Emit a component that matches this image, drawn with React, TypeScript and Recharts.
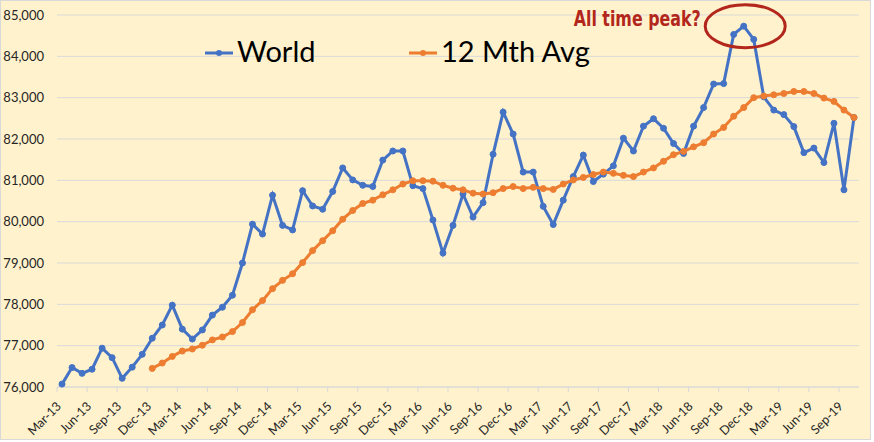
import { LineChart, Line, XAxis, YAxis, CartesianGrid, Legend, ReferenceDot } from 'recharts';

// month categories, Mar-13 .. Oct-19
const MONTHS: string[] = [
  'Mar-13', 'Apr-13', 'May-13', 'Jun-13', 'Jul-13', 'Aug-13', 'Sep-13', 'Oct-13', 'Nov-13', 'Dec-13',
  'Jan-14', 'Feb-14', 'Mar-14', 'Apr-14', 'May-14', 'Jun-14', 'Jul-14', 'Aug-14', 'Sep-14', 'Oct-14', 'Nov-14', 'Dec-14',
  'Jan-15', 'Feb-15', 'Mar-15', 'Apr-15', 'May-15', 'Jun-15', 'Jul-15', 'Aug-15', 'Sep-15', 'Oct-15', 'Nov-15', 'Dec-15',
  'Jan-16', 'Feb-16', 'Mar-16', 'Apr-16', 'May-16', 'Jun-16', 'Jul-16', 'Aug-16', 'Sep-16', 'Oct-16', 'Nov-16', 'Dec-16',
  'Jan-17', 'Feb-17', 'Mar-17', 'Apr-17', 'May-17', 'Jun-17', 'Jul-17', 'Aug-17', 'Sep-17', 'Oct-17', 'Nov-17', 'Dec-17',
  'Jan-18', 'Feb-18', 'Mar-18', 'Apr-18', 'May-18', 'Jun-18', 'Jul-18', 'Aug-18', 'Sep-18', 'Oct-18', 'Nov-18', 'Dec-18',
  'Jan-19', 'Feb-19', 'Mar-19', 'Apr-19', 'May-19', 'Jun-19', 'Jul-19', 'Aug-19', 'Sep-19', 'Oct-19',
];

const WORLD: number[] = [
  76070, 76470, 76330, 76430, 76940, 76710, 76210, 76480, 76790, 77180,
  77500, 77980, 77400, 77160, 77380, 77740, 77930, 78220, 79000, 79940, 79700, 80640,
  79910, 79800, 80750, 80380, 80300, 80730, 81300, 81010, 80880, 80850, 81490, 81710,
  81710, 80870, 80800, 80040, 79240, 79910, 80670, 80110, 80460, 81630, 82650, 82120,
  81200, 81200, 80370, 79930, 80520, 81090, 81610, 80970, 81150, 81350, 82020, 81710,
  82310, 82490, 82260, 81890, 81650, 82310, 82760, 83330, 83340, 84530, 84730, 84410,
  83020, 82700, 82590, 82300, 81670, 81780, 81430, 82380, 80770, 82520,
];

const AVG_12M: (number | null)[] = [
  null, null, null, null, null, null, null, null, null, 76450,
  76580, 76740, 76870, 76920, 77010, 77140, 77210, 77340, 77560, 77870, 78090, 78380,
  78580, 78740, 79010, 79300, 79540, 79780, 80060, 80270, 80440, 80520, 80650, 80770,
  80910, 80990, 80990, 80980, 80880, 80810, 80770, 80690, 80670, 80700, 80800, 80850,
  80800, 80830, 80800, 80780, 80910, 81010, 81070, 81140, 81200, 81170, 81120, 81090,
  81200, 81300, 81460, 81620, 81700, 81810, 81910, 82120, 82280, 82550, 82760, 83000,
  83040, 83070, 83100, 83150, 83150, 83100, 82990, 82910, 82700, 82520,
];

const TICK_LABELS: string[] = [
  'Mar-13', 'Jun-13', 'Sep-13', 'Dec-13', 'Mar-14', 'Jun-14', 'Sep-14', 'Dec-14',
  'Mar-15', 'Jun-15', 'Sep-15', 'Dec-15', 'Mar-16', 'Jun-16', 'Sep-16', 'Dec-16',
  'Mar-17', 'Jun-17', 'Sep-17', 'Dec-17', 'Mar-18', 'Jun-18', 'Sep-18', 'Dec-18',
  'Mar-19', 'Jun-19', 'Sep-19',
];

const Y_TICKS: number[] = [76000, 77000, 78000, 79000, 80000, 81000, 82000, 83000, 84000, 85000];

const PEAK_MONTH = 'Nov-18';

const BLUE = '#4472C4';
const ORANGE = '#ED7D31';
const RED = '#B2261C';
const FONT = 'Lato, "Open Sans", sans-serif';

const data = MONTHS.map((m, i) => ({ i, month: m, world: WORLD[i], avg: AVG_12M[i] }));
const xTicks = TICK_LABELS.map((l) => MONTHS.indexOf(l) - 0.5);
const peakIdx = MONTHS.indexOf(PEAK_MONTH);

const XTick = (props: any) => {
  const { x, y, payload } = props;
  const label = MONTHS[Math.round(payload.value + 0.5)];
  return (
    <g transform={`translate(${x + 5},${y + 13})`}>
      <text x={0} y={0} textAnchor="end" transform="rotate(-45)" fontSize={12.5} fill="#262626" fontFamily={FONT}>
        {label}
      </text>
    </g>
  );
};

const LegendBox = () => (
  <svg width={869} height={80} style={{ display: 'block' }}>
    <line x1={204} y1={52} x2={232} y2={52} stroke={BLUE} strokeWidth={3} />
    <circle cx={218} cy={52} r={3} fill={BLUE} />
    <text x={236} y={61} fontSize={29} fontFamily={FONT} fill="#000">World</text>
    <line x1={408} y1={52} x2={436} y2={52} stroke={ORANGE} strokeWidth={3} />
    <circle cx={422} cy={52} r={3} fill={ORANGE} />
    <text x={440} y={61} fontSize={29} fontFamily={FONT} fill="#000">12 Mth Avg</text>
  </svg>
);

const PeakMark = (props: any) => {
  const { cx, cy } = props;
  return (
    <g>
      <ellipse cx={cx + 1.5} cy={cy} rx={40} ry={21.5} fill="none" stroke={RED} strokeWidth={3} />
      <text
        x={cx - 170}
        y={cy}
        fontSize={22}
        fontWeight="bold"
        fontFamily='"DejaVu Sans", sans-serif'
        fill={RED}
        textLength={127}
        lengthAdjust="spacingAndGlyphs"
      >
        All time peak?
      </text>
    </g>
  );
};

export default function App() {
  return (
    <div style={{ width: 874, height: 442, background: '#fff' }}>
      <style>{'body{margin:0}'}</style>
      <div
        style={{
          width: 871,
          height: 440,
          boxSizing: 'border-box',
          border: '1px solid #d9d9d9',
          background: '#FFF2CC',
        }}
      >
        <LineChart width={869} height={438} data={data} margin={{ top: 14, right: 11, left: 0, bottom: 2 }}>
          <CartesianGrid vertical={false} stroke="#d9d9d9" />
          <XAxis
            dataKey="i"
            type="number"
            domain={[-0.5, MONTHS.length - 0.5]}
            ticks={xTicks}
            interval={0}
            height={50}
            tick={<XTick />}
            tickSize={5}
            stroke="#d9d9d9"
            axisLine={{ stroke: '#d9d9d9' }}
            tickLine={{ stroke: '#d9d9d9' }}
          />
          <YAxis
            domain={[76000, 85000]}
            ticks={Y_TICKS}
            width={56}
            axisLine={false}
            tickLine={false}
            tickMargin={7}
            tickFormatter={(v: number) => v.toLocaleString('en-US')}
            tick={{ fontSize: 13, fill: '#262626', fontFamily: FONT }}
          />
          <Legend
            layout="horizontal"
            verticalAlign="middle"
            align="center"
            wrapperStyle={{ top: 0, left: 0, width: 869, height: 80 }}
            content={<LegendBox />}
          />
          <Line
            type="linear"
            dataKey="world"
            stroke={BLUE}
            strokeWidth={3}
            dot={{ r: 3, fill: BLUE, stroke: BLUE, strokeWidth: 1 }}
            isAnimationActive={false}
          />
          <Line
            type="linear"
            dataKey="avg"
            stroke={ORANGE}
            strokeWidth={3}
            dot={{ r: 3, fill: ORANGE, stroke: ORANGE, strokeWidth: 1 }}
            isAnimationActive={false}
          />
          <ReferenceDot x={peakIdx} y={WORLD[peakIdx]} ifOverflow="visible" shape={<PeakMark />} />
        </LineChart>
      </div>
    </div>
  );
}
